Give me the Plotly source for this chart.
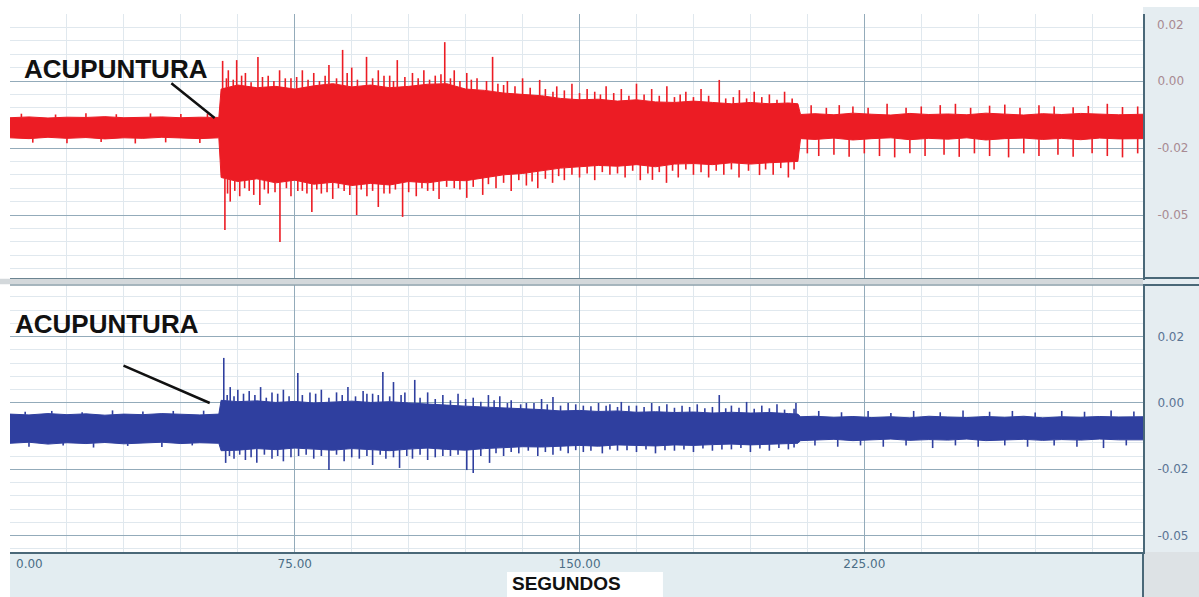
import numpy as np
import plotly.graph_objects as go

# ---------------- data ----------------
# time axis (seconds) for the dense core envelope of both signals
env_t = [0, 5, 10, 15, 20, 25, 30, 35, 40, 45, 50, 55, 55.6,
         60, 65, 70, 75, 80, 85, 90, 95, 100, 105, 110, 115, 120, 125, 130, 135,
         140, 145, 150, 155, 160, 165, 170, 175, 180, 185, 190, 195, 200, 205,
         207.5, 208.2,
         212, 217, 222, 227, 232, 237, 242, 247, 252, 257, 262, 267, 272, 277,
         282, 287, 292, 298.4]

# red (upper) signal: core envelope
red_hi = [-0.0137, -0.0134, -0.0138, -0.0135, -0.0136, -0.0133, -0.0137, -0.0135, -0.0134, -0.0137, -0.0135, -0.0136,
          -0.0030,
          -0.0015, -0.0025, -0.0020, -0.0030, -0.0018, -0.0010, -0.0022, -0.0015, -0.0025, -0.0020, -0.0012, -0.0010,
          -0.0030, -0.0035, -0.0045, -0.0050, -0.0055, -0.0065, -0.0070, -0.0068, -0.0075, -0.0070, -0.0078, -0.0080,
          -0.0075, -0.0080, -0.0085, -0.0080, -0.0085, -0.0082,
          -0.0085, -0.0125,
          -0.0122, -0.0126, -0.0120, -0.0124, -0.0127, -0.0121, -0.0125, -0.0123, -0.0126, -0.0120, -0.0124, -0.0127,
          -0.0122, -0.0125, -0.0121, -0.0124, -0.0126, -0.0124]
red_lo = [-0.0212, -0.0215, -0.0210, -0.0214, -0.0211, -0.0216, -0.0212, -0.0214, -0.0210, -0.0213, -0.0215, -0.0212,
          -0.0360,
          -0.0375, -0.0365, -0.0380, -0.0370, -0.0385, -0.0378, -0.0390, -0.0382, -0.0388, -0.0375, -0.0380, -0.0370,
          -0.0372, -0.0360, -0.0350, -0.0345, -0.0335, -0.0325, -0.0320, -0.0315, -0.0318, -0.0312, -0.0320, -0.0310,
          -0.0308, -0.0312, -0.0305, -0.0310, -0.0305, -0.0300,
          -0.0300, -0.0215,
          -0.0218, -0.0213, -0.0220, -0.0215, -0.0212, -0.0219, -0.0214, -0.0217, -0.0212, -0.0220, -0.0215, -0.0213,
          -0.0218, -0.0214, -0.0219, -0.0213, -0.0216, -0.0215]

# red signal: tall peaks above / below the core
red_up_t = [3, 12, 20, 28, 37, 45, 52,
            56.0, 57.5, 59.7, 62, 65.3, 68, 71, 74, 77, 80, 84, 87.6, 90, 93.9, 97, 100, 102, 106, 109, 112,
            114.5, 117, 120.3, 123, 127.1, 131, 135, 139.5, 144, 148, 152, 157, 161, 165, 169, 173, 178, 182,
            186.8, 192.1, 196, 200, 204,
            211, 215, 218.4, 222, 226, 231, 236, 240, 245, 249, 253, 258, 262, 266, 271, 275, 280, 284, 289, 293, 297]
red_up_v = [-0.0122, -0.0125, -0.0120, -0.0124, -0.0121, -0.0123, -0.0122,
            0.0075, 0.0040, 0.0078, 0.0030, 0.0090, 0.0020, 0.0040, 0.0010, 0.0040, 0.0030, 0.0060, 0.0116, 0.0050,
            0.0090, 0.0040, 0.0020, 0.0078, 0.0030, 0.0040, 0.0020,
            0.0145, 0.0040, 0.0030, 0.0010, 0.0090, 0.0000, 0.0010, 0.0004, -0.0020, -0.0010, -0.0030, -0.0020,
            -0.0030, -0.0010, -0.0030, -0.0020, -0.0040, -0.0030,
            0.0004, -0.0034, -0.0040, -0.0050, -0.0040,
            -0.0090, -0.0100, -0.0090, -0.0095, -0.0100, -0.0085, -0.0100, -0.0095, -0.0090, -0.0085, -0.0100,
            -0.0092, -0.0088, -0.0100, -0.0090, -0.0095, -0.0098, -0.0093, -0.0085, -0.0097, -0.0095]
red_dn_t = [6, 15, 24, 33, 41, 50,
            56.6, 58, 60.5, 63, 65.8, 68, 71.1, 74, 77, 79.5, 82, 85, 88, 91.3, 94, 97, 100, 103.4, 107, 110, 113,
            117, 120.3, 124.5, 128, 132, 136, 139, 142.9, 146, 150, 154, 158, 162, 166, 169.2, 172.9, 176, 180,
            184, 188, 192, 197.4, 201, 205,
            210, 213, 217, 221, 225, 229, 233, 237, 241, 246, 250, 254, 258, 263, 267, 271, 276, 280, 285, 289, 293, 297]
red_dn_v = [-0.0230, -0.0232, -0.0228, -0.0233, -0.0229, -0.0231,
            -0.0556, -0.0450, -0.0430, -0.0410, -0.0463, -0.0420, -0.0601, -0.0430, -0.0410, -0.0489, -0.0420,
            -0.0440, -0.0410, -0.0500, -0.0430, -0.0470, -0.0420, -0.0507, -0.0430, -0.0410, -0.0440,
            -0.0400, -0.0436, -0.0425, -0.0400, -0.0410, -0.0390, -0.0400, -0.0380, -0.0370, -0.0360, -0.0370,
            -0.0350, -0.0360, -0.0370, -0.0369, -0.0380, -0.0360, -0.0350,
            -0.0360, -0.0350, -0.0360, -0.0351, -0.0350, -0.0360,
            -0.0270, -0.0280, -0.0275, -0.0283, -0.0270, -0.0280, -0.0285, -0.0270, -0.0280, -0.0275, -0.0283,
            -0.0270, -0.0280, -0.0285, -0.0270, -0.0280, -0.0275, -0.0283, -0.0270, -0.0280, -0.0285, -0.0270]

# red signal: short peaks fringing the burst
red_up2_t = [57, 58.8, 61, 63.5, 66.5, 69.5, 72.5, 75.5, 78.5, 81.5,
             83, 86, 88.8, 91.5, 95.5, 98.5, 101, 104, 107.5, 110.5,
             113.5, 116, 118.5, 121.5, 125.5, 128.5, 130, 133, 137, 141,
             143, 146, 150, 154, 155.5, 159, 163, 167, 171, 175,
             176.5, 180, 184, 188.5, 190.5, 194, 198, 202, 206]
red_up2_v = [0.0010, 0.0005, 0.0020, -0.0005, 0.0015, 0.0000, 0.0010, 0.0015, 0.0005, 0.0000,
             0.0020, 0.0010, 0.0030, 0.0005, 0.0010, 0.0020, 0.0000, 0.0015, 0.0010, 0.0005,
             0.0025, 0.0010, 0.0000, 0.0005, 0.0000, -0.0010, -0.0015, -0.0020, -0.0025, -0.0030,
             -0.0040, -0.0035, -0.0045, -0.0040, -0.0050, -0.0045, -0.0055, -0.0050, -0.0055, -0.0060,
             -0.0050, -0.0060, -0.0055, -0.0065, -0.0060, -0.0065, -0.0060, -0.0070, -0.0065]
red_dn2_t = [57.3, 59.2, 61.8, 64.2, 67, 69.8, 72.8, 75.8, 78.2, 80.8,
             83.5, 86.5, 89.5, 92.5, 95.5, 98.5, 101.5, 105, 108.5, 111.5,
             115, 118.5, 122, 126, 130, 134, 137.5, 141, 144.5, 148,
             152, 156, 160, 164, 168, 171, 174.5, 178, 182, 186,
             190, 194.5, 199, 203, 206.5]
red_dn2_v = [-0.0420, -0.0410, -0.0400, -0.0425, -0.0405, -0.0415, -0.0400, -0.0410, -0.0420, -0.0405,
             -0.0415, -0.0400, -0.0425, -0.0405, -0.0410, -0.0420, -0.0405, -0.0415, -0.0400, -0.0410,
             -0.0395, -0.0405, -0.0395, -0.0385, -0.0380, -0.0370, -0.0375, -0.0365, -0.0355, -0.0350,
             -0.0345, -0.0340, -0.0345, -0.0335, -0.0345, -0.0340, -0.0335, -0.0330, -0.0340, -0.0335,
             -0.0330, -0.0335, -0.0330, -0.0325, -0.0330]

# blue (lower) signal: core envelope
blue_hi = [-0.0042, -0.0045, -0.0040, -0.0044, -0.0041, -0.0046, -0.0042, -0.0044, -0.0040, -0.0043, -0.0045, -0.0042,
           0.0010,
           0.0005, 0.0008, 0.0002, 0.0006, 0.0000, 0.0004, 0.0007, 0.0002, 0.0005, 0.0000, -0.0005, -0.0008,
           -0.0012, -0.0015, -0.0020, -0.0022, -0.0025, -0.0030, -0.0028, -0.0032, -0.0030, -0.0035, -0.0033, -0.0036,
           -0.0034, -0.0038, -0.0035, -0.0038, -0.0036, -0.0040,
           -0.0042, -0.0052,
           -0.0050, -0.0054, -0.0051, -0.0055, -0.0052, -0.0056, -0.0050, -0.0053, -0.0055, -0.0051, -0.0054, -0.0050,
           -0.0056, -0.0052, -0.0054, -0.0051, -0.0053, -0.0052]
blue_lo = [-0.0152, -0.0148, -0.0155, -0.0150, -0.0153, -0.0149, -0.0154, -0.0151, -0.0148, -0.0153, -0.0150, -0.0152,
           -0.0180,
           -0.0178, -0.0172, -0.0176, -0.0170, -0.0174, -0.0178, -0.0172, -0.0176, -0.0180, -0.0174, -0.0170, -0.0175,
           -0.0178, -0.0172, -0.0168, -0.0165, -0.0166, -0.0162, -0.0160, -0.0163, -0.0158, -0.0160, -0.0162, -0.0158,
           -0.0160, -0.0157, -0.0155, -0.0158, -0.0155, -0.0154,
           -0.0152, -0.0142,
           -0.0140, -0.0137, -0.0142, -0.0139, -0.0136, -0.0141, -0.0138, -0.0140, -0.0136, -0.0142, -0.0139, -0.0137,
           -0.0141, -0.0138, -0.0140, -0.0136, -0.0139, -0.0139]

blue_up_t = [4, 11, 19, 27, 35, 43, 51,
             56.3, 58, 60, 63, 66, 69, 72, 75.8, 79, 82, 86, 89, 93, 95.5, 98.2, 101, 104, 106.6, 110, 114, 118,
             122, 126, 129,
             132, 136, 140, 143, 147, 151, 155, 158, 161, 165, 169, 173, 177, 181, 186.8, 190, 194, 198, 202, 207,
             213, 219, 226, 232, 238, 245, 251, 258, 264, 270, 277, 283, 290, 296]
blue_up_v = [-0.0033, -0.0030, -0.0035, -0.0028, -0.0032, -0.0030, -0.0029,
             0.0170, 0.0060, 0.0050, 0.0045, 0.0060, 0.0040, 0.0050, 0.0113, 0.0040, 0.0050, 0.0040, 0.0060, 0.0045,
             0.0035, 0.0117, 0.0079, 0.0040, 0.0087, 0.0040, 0.0030, 0.0035, 0.0020, 0.0030, 0.0025,
             0.0010, 0.0000, 0.0015, 0.0023, 0.0000, -0.0010, 0.0000, -0.0005, 0.0004, -0.0010, 0.0000, -0.0005,
             -0.0010, -0.0005, 0.0030, -0.0010, 0.0004, -0.0010, -0.0005, 0.0000,
             -0.0030, -0.0035, -0.0030, -0.0038, -0.0030, -0.0035, -0.0028, -0.0033, -0.0030, -0.0036, -0.0030,
             -0.0033, -0.0028, -0.0032]
blue_dn_t = [5, 14, 22, 31, 40, 48,
             56.8, 59, 62, 65, 69, 72, 76, 80, 84, 88, 92, 95.5, 99, 102.6, 106, 110, 114, 120.3, 122, 126.3,
             130, 134, 139, 143, 147, 151, 156, 160, 165, 170, 175, 180, 185, 190, 195, 200, 205,
             212, 218, 224, 230, 236, 243, 249, 255, 262, 268, 275, 281, 288, 294]
blue_dn_v = [-0.0165, -0.0160, -0.0168, -0.0162, -0.0166, -0.0160,
             -0.0226, -0.0210, -0.0215, -0.0225, -0.0210, -0.0220, -0.0200, -0.0210, -0.0253, -0.0220, -0.0210,
             -0.0234, -0.0210, -0.0245, -0.0210, -0.0215, -0.0200, -0.0253, -0.0264, -0.0226,
             -0.0200, -0.0190, -0.0200, -0.0195, -0.0190, -0.0185, -0.0190, -0.0180, -0.0185, -0.0190, -0.0180,
             -0.0185, -0.0180, -0.0175, -0.0185, -0.0180, -0.0175,
             -0.0160, -0.0165, -0.0160, -0.0165, -0.0160, -0.0170, -0.0160, -0.0165, -0.0160, -0.0165, -0.0160,
             -0.0165, -0.0170, -0.0160]

# blue signal: short peaks fringing the burst
blue_up2_t = [57.2, 59, 61.5, 64.5, 67.5, 70.5, 73.5, 77, 80.5, 84,
              87.5, 91, 94, 97, 100, 103, 108, 112, 116, 120,
              124, 127.5, 131, 134.5, 138, 141.5, 145, 149, 153, 157,
              160, 163, 167, 171, 175, 179, 183, 185, 188.5, 192,
              196, 200, 204, 206.5]
blue_up2_v = [0.0030, 0.0025, 0.0035, 0.0030, 0.0020, 0.0035, 0.0025, 0.0030, 0.0035, 0.0020,
              0.0030, 0.0025, 0.0035, 0.0030, 0.0025, 0.0030, 0.0020, 0.0015, 0.0010, 0.0015,
              0.0005, 0.0010, 0.0000, -0.0005, 0.0000, -0.0005, -0.0010, -0.0005, -0.0012, -0.0010,
              -0.0015, -0.0010, -0.0015, -0.0012, -0.0018, -0.0015, -0.0020, -0.0015, -0.0020, -0.0018,
              -0.0022, -0.0020, -0.0025, -0.0022]
blue_dn2_t = [57.8, 60.5, 63.5, 67, 70.5, 74, 78, 82, 86, 90,
              94, 97.5, 101, 104.5, 108, 112, 116, 118, 124, 128,
              132, 136.5, 141, 145, 149, 153, 158, 162.5, 167.5, 172.5,
              177.5, 182.5, 187.5, 192.5, 197.5, 202.5, 206.5]
blue_dn2_v = [-0.0200, -0.0195, -0.0205, -0.0195, -0.0200, -0.0205, -0.0195, -0.0200, -0.0195, -0.0205,
              -0.0200, -0.0195, -0.0205, -0.0200, -0.0195, -0.0205, -0.0200, -0.0195, -0.0200, -0.0190,
              -0.0185, -0.0180, -0.0185, -0.0180, -0.0178, -0.0180, -0.0175, -0.0178, -0.0175, -0.0178,
              -0.0175, -0.0172, -0.0175, -0.0170, -0.0172, -0.0170, -0.0168]

x_tickvals = [0, 75, 150, 225]
x_ticktext = ["", "75.00", "150.00", "225.00"]
y_tickvals = [0.025, 0.0, -0.025, -0.05]
y_ticktext = ["0.02", "0.00", "-0.02", "-0.05"]
# top panel: highest label is written just below its grid line
y1_ticktext = ["", "0.00", "-0.02", "-0.05"]

RED = "#ec1c24"
BLUE = "#2f3f9f"
MAJ = "#93abba"
MIN = "#e0e8ee"
DARK = "#4a6878"
TOPLAB = "#a88a92"
BOTLAB = "#5a7494"
XLAB = "#4b6e86"


def spikes(ts, vs, base_t, base_v):
    xs, ys = [], []
    for t, v in zip(ts, vs):
        b = float(np.interp(t, base_t, base_v))
        xs += [t, t, None]
        ys += [b, v, None]
    return xs, ys


fig = go.Figure()


def add_signal(hi, lo, peak_sets, color, xa, ya):
    fig.add_trace(go.Scatter(x=env_t, y=hi, mode="lines", line=dict(color=color, width=1),
                             xaxis=xa, yaxis=ya, hoverinfo="skip"))
    fig.add_trace(go.Scatter(x=env_t, y=lo, mode="lines", line=dict(color=color, width=1),
                             fill="tonexty", fillcolor=color, xaxis=xa, yaxis=ya, hoverinfo="skip"))
    for pt, pv, base in peak_sets:
        sx, sy = spikes(pt, pv, env_t, base)
        fig.add_trace(go.Scatter(x=sx, y=sy, mode="lines", line=dict(color=color, width=1.6),
                                 xaxis=xa, yaxis=ya, hoverinfo="skip"))


add_signal(red_hi, red_lo,
           [(red_up_t, red_up_v, red_hi), (red_dn_t, red_dn_v, red_lo),
            (red_up2_t, red_up2_v, red_hi), (red_dn2_t, red_dn2_v, red_lo)],
           RED, "x", "y")
add_signal(blue_hi, blue_lo,
           [(blue_up_t, blue_up_v, blue_hi), (blue_dn_t, blue_dn_v, blue_lo),
            (blue_up2_t, blue_up2_v, blue_hi), (blue_dn2_t, blue_dn2_v, blue_lo)],
           BLUE, "x2", "y2")

FONT = "Liberation Sans, Arial, sans-serif"
TICKFONT = "DejaVu Sans, Verdana, sans-serif"

xcommon = dict(range=[0, 298.4], tickmode="array", tickvals=x_tickvals, ticktext=x_ticktext,
               showgrid=True, gridcolor=MAJ, gridwidth=1,
               minor=dict(tick0=0, dtick=15, showgrid=True, gridcolor=MIN, gridwidth=1),
               zeroline=False, showline=True, linecolor=DARK, linewidth=2, ticks="")
ycommon = dict(side="right", tickmode="array", tickvals=y_tickvals,
               showgrid=True, gridcolor=MAJ, gridwidth=1,
               minor=dict(tick0=0, dtick=0.005, showgrid=True, gridcolor=MIN, gridwidth=1),
               zeroline=False, showline=True, linecolor=DARK, linewidth=2, ticks="",
               ticklabelstandoff=10)

fig.update_layout(
    width=1199, height=597,
    margin=dict(l=10, r=56, t=14, b=45),
    paper_bgcolor="white", plot_bgcolor="white",
    showlegend=False,
    font=dict(family=FONT),
    xaxis=dict(**xcommon, anchor="y", showticklabels=False),
    xaxis2=dict(**xcommon, anchor="y2", matches="x", showticklabels=True,
                tickfont=dict(size=12, color=XLAB, family=TICKFONT)),
    yaxis=dict(**ycommon, ticktext=y1_ticktext, domain=[0.5093, 1], range=[-0.0735, 0.025], anchor="x",
               tickfont=dict(size=12, color=TOPLAB, family=TICKFONT)),
    yaxis2=dict(**ycommon, ticktext=y_ticktext, domain=[0, 0.4963], range=[-0.0562, 0.0445], anchor="x2",
                tickfont=dict(size=12, color=BOTLAB, family=TICKFONT)),
)

# panel chrome: side strip, bottom band, separator
shapes = [
    dict(type="rect", xref="paper", yref="paper", x0=1, x1=1.06, y0=0, y1=1.013,
         fillcolor="#e5edf1", line=dict(width=0), layer="below"),
    dict(type="rect", xref="paper", yref="paper", x0=0, x1=1, y0=-0.09, y1=0,
         fillcolor="#e3edf1", line=dict(width=0), layer="below"),
    dict(type="rect", xref="paper", yref="paper", x0=1, x1=1.06, y0=-0.09, y1=0,
         fillcolor="#dde2e5", line=dict(width=0), layer="below"),
    dict(type="rect", xref="paper", yref="paper", x0=-0.01, x1=1.0, y0=0.4975, y1=0.5081,
         fillcolor="#d3d8db", line=dict(width=0), layer="above"),
    dict(type="line", xref="paper", yref="paper", x0=1, x1=1.06, y0=0.5093, y1=0.5093,
         line=dict(color=DARK, width=2)),
    dict(type="line", xref="paper", yref="paper", x0=1, x1=1.06, y0=0.4963, y1=0.4963,
         line=dict(color=DARK, width=2)),
    dict(type="line", xref="paper", yref="paper", x0=0, x1=1, y0=0.4963, y1=0.4963,
         line=dict(color="#8a9ea8", width=1.5)),
    dict(type="line", xref="paper", yref="paper", x0=1, x1=1, y0=-0.09, y1=0,
         line=dict(color=DARK, width=2)),
    dict(type="rect", xref="paper", yref="paper", x0=0.4387, x1=0.5763, y0=-0.09, y1=-0.0372,
         fillcolor="white", line=dict(width=0), layer="above"),
]
fig.update_layout(shapes=shapes)

annotations = [
    dict(text="<b>ACUPUNTURA</b>", x=27.9, y=0.0045, xref="x", yref="y", showarrow=False,
         font=dict(size=26, color="#111111", family=FONT)),
    dict(text="<b>ACUPUNTURA</b>", x=25.5, y=0.0298, xref="x2", yref="y2", showarrow=False,
         font=dict(size=26, color="#111111", family=FONT)),
    dict(text="", x=53.9, y=-0.0138, xref="x", yref="y", ax=42.1, ay=-0.0004, axref="x", ayref="y",
         showarrow=True, arrowhead=0, arrowwidth=2.5, arrowcolor="#111111"),
    dict(text="", x=52.6, y=0.0, xref="x2", yref="y2", ax=29.5, ay=0.0143, axref="x2", ayref="y2",
         showarrow=True, arrowhead=0, arrowwidth=2.5, arrowcolor="#111111"),
    # top label of the upper panel and first x label, nudged inside as in the original
    dict(text=y_ticktext[0], x=1, y=y_tickvals[0], xref="paper", yref="y", xanchor="left", yanchor="top",
         xshift=12, yshift=-2, showarrow=False, font=dict(size=12, color=TOPLAB, family=TICKFONT)),
    dict(text="0.00", x=0, y=0, xref="x2", yref="paper", xanchor="left", yanchor="top",
         xshift=4, yshift=-3, showarrow=False, font=dict(size=12, color=XLAB, family=TICKFONT)),
    dict(text="<b>SEGUNDOS</b>", x=0.4916, y=-0.0585, xref="paper", yref="paper",
         xanchor="center", yanchor="middle", showarrow=False,
         font=dict(size=19, color="#111111", family=FONT)),
]
fig.update_layout(annotations=annotations)

fig.write_html("out.html", config={"displayModeBar": False},
               post_script="document.body.style.margin='0';document.body.style.padding='0';")
